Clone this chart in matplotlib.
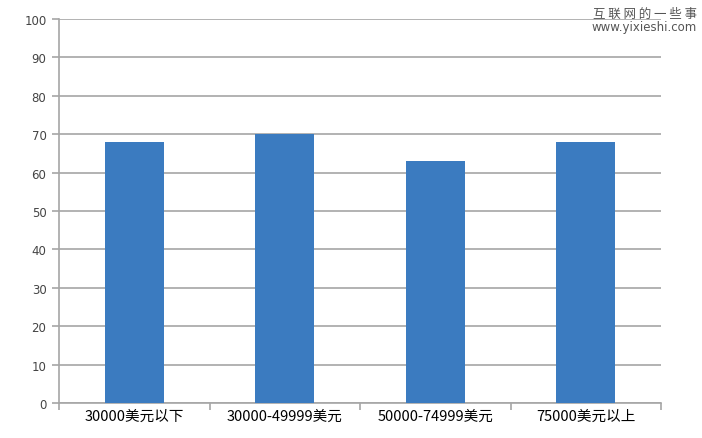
import matplotlib
matplotlib.use("Agg")
import matplotlib.pyplot as plt
import numpy as np

plt.rcParams['font.family'] = ['Noto Sans CJK SC', 'DejaVu Sans']

categories = ["30000美元以下", "30000-49999美元", "50000-74999美元", "75000美元以上"]
values = [68, 70, 63, 68]
yticks = [0, 10, 20, 30, 40, 50, 60, 70, 80, 90, 100]

fig = plt.figure(figsize=(7.02, 4.39), dpi=100)
ax = fig.add_axes([59/702, 35/439, 602/702, 384/439])
ax.set_axisbelow(True)

x = np.arange(len(categories))
ax.bar(x, values, width=0.39, color="#3b7bc0", zorder=3)

ax.set_xlim(-0.5, len(categories) - 0.5)
ax.set_ylim(0, 100)
ax.set_yticks(yticks)
ax.set_yticklabels([str(v) for v in yticks], fontsize=8.5, color="#444444", family=['DejaVu Sans'])
ax.yaxis.grid(True, color="#a6a6a6", linewidth=1.2)
ax.set_xticks(x)
ax.set_xticklabels(categories, fontsize=10.5, color="black")
ax.tick_params(axis='x', length=0, pad=4)
ax.set_xticks(np.arange(-0.5, len(categories), 1), minor=True)
ax.tick_params(axis='x', which='minor', length=5, color="#a6a6a6", width=1.2)
ax.tick_params(axis='y', length=5, color="#a6a6a6", width=1.2, pad=4)

for s in ['top', 'right']:
    ax.spines[s].set_visible(False)
for s in ['left', 'bottom']:
    ax.spines[s].set_color("#a6a6a6")
    ax.spines[s].set_linewidth(1.2)

fig.text(697/702, 1 - 14/439, "互 联 网 的 一 些 事", ha='right', va='center', fontsize=9, color="#555555")
fig.text(697/702, 1 - 28/439, "www.yixieshi.com", ha='right', va='center', fontsize=8.5, color="#555555",
         family=['DejaVu Sans'])

fig.savefig("out.png", dpi=100)
